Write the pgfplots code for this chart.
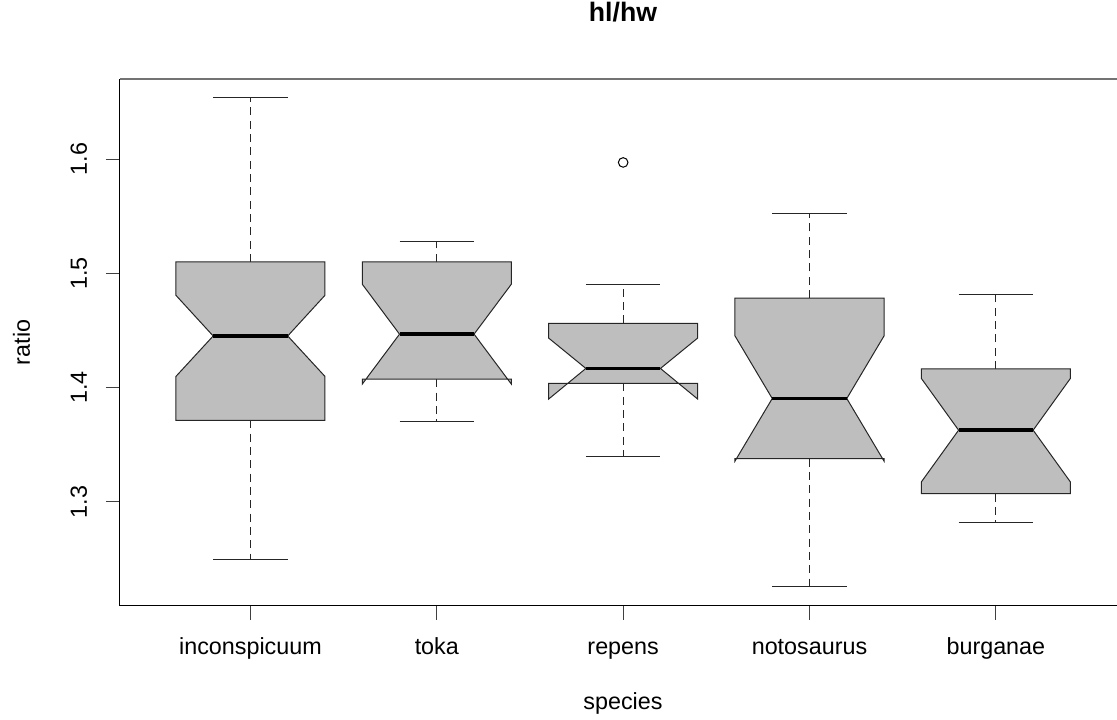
\documentclass[border=0pt]{standalone}
\usepackage{pgfplots}
\pgfplotsset{compat=1.18}
\usepackage{fontspec}
\setmainfont{Liberation Sans}
\definecolor{boxgray}{HTML}{BEBEBE}
\begin{document}
\begin{tikzpicture}
\begin{axis}[
  at={(0,0)}, anchor=south west,
  scale only axis, width=747.75pt, height=395.25pt,
  xmin=0.3, xmax=5.65, ymin=1.209, ymax=1.670,
  axis lines*=left,
  axis line style={black, line width=0.75pt},
  tick align=outside, major tick length=10.5pt,
  tick style={black!75, line width=0.75pt},
  xtick={1,2,3,4,5},
  xticklabels={inconspicuum,toka,repens,notosaurus,burganae},
  ytick={1.3,1.4,1.5,1.6},
  /pgf/number format/assume math mode=true,
  /pgf/number format/fixed,
  ticklabel style={font=\fontsize{17.5}{21}\selectfont},
  xticklabel style={anchor=base, yshift=-26.25pt},
  yticklabel style={rotate=90, anchor=base, yshift=14.25pt},
  xlabel={species}, ylabel={ratio}, title={hl/hw},
  label style={font=\fontsize{17.5}{21}\selectfont},
  xlabel style={at={(axis description cs:0.5045,-0.19734)}, anchor=base},
  ylabel style={at={(axis description cs:-0.09027,0.5)}, anchor=base},
  title style={at={(axis description cs:0.5045,1.093)}, anchor=base, yshift=0pt, font=\fontsize{20}{24}\selectfont\bfseries},
  clip=false,
]
% whiskers (dashed)
\pgfplotsset{whisk/.style={black!85, line width=0.75pt, dash pattern=on 6pt off 4pt}}
\pgfplotsset{staple/.style={black!85, line width=0.75pt}}
\addplot[whisk] coordinates {(1,1.5100) (1,1.6540)};
\addplot[whisk] coordinates {(1,1.3714) (1,1.2496)};
\addplot[whisk] coordinates {(2,1.5101) (2,1.5275)};
\addplot[whisk] coordinates {(2,1.4074) (2,1.3700)};
\addplot[whisk] coordinates {(3,1.4563) (3,1.4898)};
\addplot[whisk] coordinates {(3,1.4037) (3,1.3400)};
\addplot[whisk] coordinates {(4,1.4784) (4,1.5521)};
\addplot[whisk] coordinates {(4,1.3380) (4,1.2260)};
\addplot[whisk] coordinates {(5,1.4164) (5,1.4819)};
\addplot[whisk] coordinates {(5,1.3073) (5,1.2824)};
% staples
\addplot[staple] coordinates {(0.8,1.6540) (1.2,1.6540)};
\addplot[staple] coordinates {(0.8,1.2496) (1.2,1.2496)};
\addplot[staple] coordinates {(1.8,1.5275) (2.2,1.5275)};
\addplot[staple] coordinates {(1.8,1.3700) (2.2,1.3700)};
\addplot[staple] coordinates {(2.8,1.4898) (3.2,1.4898)};
\addplot[staple] coordinates {(2.8,1.3400) (3.2,1.3400)};
\addplot[staple] coordinates {(3.8,1.5521) (4.2,1.5521)};
\addplot[staple] coordinates {(3.8,1.2260) (4.2,1.2260)};
\addplot[staple] coordinates {(4.8,1.4819) (5.2,1.4819)};
\addplot[staple] coordinates {(4.8,1.2824) (5.2,1.2824)};
% notched boxes
\pgfplotsset{nbox/.style={fill=boxgray, draw=black!85, line width=0.75pt, line join=miter}}
\addplot[nbox] coordinates {(0.6,1.3714) (1.4,1.3714) (1.4,1.4098) (1.2,1.4452) (1.4,1.4808) (1.4,1.5100) (0.6,1.5100) (0.6,1.4808) (0.8,1.4452) (0.6,1.4098)} -- cycle;
\addplot[nbox] coordinates {(1.6,1.4074) (2.4,1.4074) (2.4,1.4031) (2.2,1.4468) (2.4,1.4905) (2.4,1.5101) (1.6,1.5101) (1.6,1.4905) (1.8,1.4468) (1.6,1.4031)} -- cycle;
\addplot[nbox] coordinates {(2.6,1.4037) (3.4,1.4037) (3.4,1.3900) (3.2,1.4168) (3.4,1.4434) (3.4,1.4563) (2.6,1.4563) (2.6,1.4434) (2.8,1.4168) (2.6,1.3900)} -- cycle;
\addplot[nbox] coordinates {(3.6,1.3380) (4.4,1.3380) (4.4,1.3357) (4.2,1.3905) (4.4,1.4453) (4.4,1.4784) (3.6,1.4784) (3.6,1.4453) (3.8,1.3905) (3.6,1.3357)} -- cycle;
\addplot[nbox] coordinates {(4.6,1.3073) (5.4,1.3073) (5.4,1.3175) (5.2,1.3628) (5.4,1.4081) (5.4,1.4164) (4.6,1.4164) (4.6,1.4081) (4.8,1.3628) (4.6,1.3175)} -- cycle;
% medians
\pgfplotsset{med/.style={black, line width=2.8pt}}
\addplot[med] coordinates {(0.8,1.4452) (1.2,1.4452)};
\addplot[med] coordinates {(1.8,1.4468) (2.2,1.4468)};
\addplot[med] coordinates {(2.8,1.4168) (3.2,1.4168)};
\addplot[med] coordinates {(3.8,1.3905) (4.2,1.3905)};
\addplot[med] coordinates {(4.8,1.3628) (5.2,1.3628)};
% outlier
\addplot[only marks, mark=o, mark size=3.6pt, black, mark options={line width=0.75pt}] coordinates {(3,1.5970)};
% top frame line
\draw[black!55, line width=0.9pt] (rel axis cs:0,1) -- (rel axis cs:1,1);
\end{axis}
\pgfresetboundingbox
\path[use as bounding box] (-90pt,-85.5pt) rectangle (747.75pt,454.5pt);
\end{tikzpicture}
\end{document}
